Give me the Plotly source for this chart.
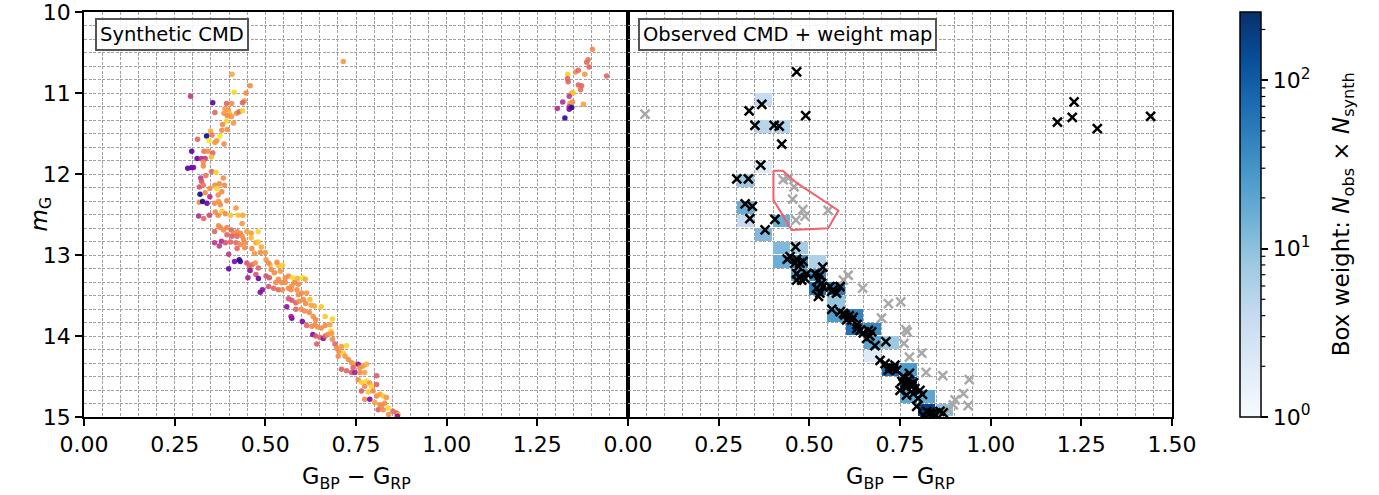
import numpy as np
import plotly.graph_objects as go

FONT = "DejaVu Sans"

# ---------------- Synthetic CMD (left panel) ----------------
syn_color = [
    0.408, 0.458, 0.414, 0.447, 0.294, 0.355, 0.393, 0.407, 0.442, 0.437,
    0.389, 0.398, 0.386, 0.401, 0.421, 0.428, 0.437, 0.361,
    0.395, 0.407, 0.393, 0.412, 0.382,
    0.380, 0.395, 0.349, 0.353, 0.338, 0.375, 0.313, 0.345, 0.366, 0.361, 0.386,
    0.297, 0.331, 0.342, 0.355, 0.351,
    0.312, 0.324, 0.334, 0.329, 0.329,
    0.286, 0.297, 0.302, 0.352, 0.364,
    0.322, 0.336, 0.384,
    0.324, 0.318, 0.329, 0.347, 0.361, 0.373, 0.387, 0.366,
    0.320, 0.334, 0.347, 0.370, 0.380,
    # 12.3 - 12.6
    0.318, 0.327, 0.339, 0.360, 0.371, 0.376, 0.394, 0.419, 0.316, 0.330,
    0.346, 0.362, 0.381, 0.390, 0.404, 0.425, 0.438, 0.370, 0.436,
    # 12.6 - 13.0
    0.360, 0.371, 0.376, 0.385, 0.394, 0.406, 0.413, 0.422, 0.431, 0.449,
    0.461, 0.480, 0.461, 0.394, 0.408, 0.422, 0.436, 0.440, 0.443, 0.360,
    0.373, 0.379, 0.390, 0.404, 0.419, 0.431, 0.474, 0.480, 0.489, 0.422,
    0.443, 0.463, 0.470, 0.486, 0.500,
    # 13.0 - 13.4
    0.399, 0.415, 0.428, 0.431, 0.399, 0.449, 0.456, 0.463, 0.472, 0.481,
    0.458, 0.474, 0.481, 0.452, 0.502, 0.513, 0.516, 0.525, 0.536, 0.547,
    0.509, 0.532, 0.541, 0.555, 0.564, 0.575, 0.589, 0.502, 0.511, 0.536,
    0.529, 0.545, 0.555, 0.573, 0.580, 0.591,
    # 13.4 - 13.8
    0.486, 0.492, 0.509, 0.523, 0.536, 0.547, 0.564, 0.571, 0.587, 0.602,
    0.610, 0.591, 0.600, 0.614, 0.623, 0.564, 0.573, 0.584, 0.593, 0.605,
    0.611, 0.626, 0.635, 0.654, 0.559, 0.573, 0.571, 0.584, 0.599, 0.608,
    0.621, 0.632, 0.639, 0.665, 0.685,
    # 13.8 - 14.25
    0.602, 0.614, 0.628, 0.637, 0.644, 0.654, 0.665, 0.678, 0.681, 0.631,
    0.639, 0.651, 0.660, 0.665, 0.672, 0.683, 0.642, 0.685, 0.692, 0.697,
    0.710, 0.724, 0.703, 0.715, 0.701, 0.720,
    # 14.25 - 14.7
    0.729, 0.738, 0.747, 0.756, 0.742, 0.761, 0.770, 0.779, 0.710, 0.724,
    0.738, 0.747, 0.761, 0.774, 0.756, 0.765, 0.779, 0.788, 0.807, 0.774,
    0.793, 0.807, 0.765, 0.784, 0.797,
    # 14.7 - 15.0
    0.774, 0.788, 0.807, 0.816, 0.825, 0.834, 0.802, 0.816, 0.829, 0.839,
    0.811, 0.825, 0.852, 0.862, 0.840, 0.866, 0.820, 0.864,
    # red clump + lone point
    1.402, 1.390, 1.386, 1.393, 1.381, 1.441, 1.356, 1.363, 1.334, 1.333,
    1.335, 1.363, 1.372, 1.369, 1.345, 1.349, 1.338, 1.320, 1.347, 1.340,
    1.377, 1.305, 1.338, 1.338, 1.345, 1.326, 0.715,
]
syn_mag = [
    10.77, 10.91, 10.99, 11.00, 11.04, 11.12, 11.13, 11.13, 11.10, 11.12,
    11.19, 11.21, 11.25, 11.25, 11.25, 11.23, 11.22, 11.24,
    11.28, 11.29, 11.35, 11.37, 11.39,
    11.46, 11.45, 11.47, 11.52, 11.53, 11.53, 11.57, 11.59, 11.59, 11.61, 11.63,
    11.72, 11.72, 11.72, 11.74, 11.79,
    11.81, 11.81, 11.81, 11.85, 11.90,
    11.93, 11.92, 11.92, 11.97, 11.98,
    12.05, 12.02, 12.05,
    12.09, 12.16, 12.14, 12.18, 12.14, 12.12, 12.14, 12.18,
    12.25, 12.23, 12.28, 12.26, 12.22,
    12.35, 12.34, 12.36, 12.36, 12.34, 12.38, 12.33, 12.42, 12.52, 12.55,
    12.51, 12.47, 12.46, 12.49, 12.51, 12.51, 12.51, 12.51, 12.61,
    12.71, 12.64, 12.66, 12.69, 12.66, 12.69, 12.73, 12.71, 12.73, 12.71,
    12.73, 12.71, 12.79, 12.75, 12.77, 12.77, 12.77, 12.81, 12.85, 12.85,
    12.89, 12.83, 12.85, 12.84, 12.85, 12.87, 12.85, 12.84, 12.90, 12.92,
    12.91, 12.92, 12.98, 12.97, 12.97,
    12.99, 13.08, 13.06, 13.08, 13.17, 13.10, 13.14, 13.12, 13.10, 13.16,
    13.19, 13.24, 13.29, 13.28, 13.06, 13.12, 13.18, 13.22, 13.13, 13.13,
    13.10, 13.09, 13.20, 13.28, 13.26, 13.28, 13.29, 13.26, 13.28, 13.30,
    13.34, 13.34, 13.34, 13.38, 13.34, 13.36,
    13.46, 13.43, 13.39, 13.41, 13.43, 13.43, 13.41, 13.43, 13.43, 13.28,
    13.30, 13.49, 13.47, 13.47, 13.55, 13.54, 13.56, 13.59, 13.57, 13.55,
    13.60, 13.62, 13.63, 13.64, 13.64, 13.78, 13.76, 13.67, 13.67, 13.69,
    13.71, 13.76, 13.80, 13.76, 13.79,
    13.82, 13.87, 13.88, 13.86, 13.89, 13.90, 13.87, 13.86, 13.94, 13.98,
    14.00, 14.02, 14.03, 14.00, 13.98, 13.97, 14.10, 14.04, 14.10, 14.15,
    14.13, 14.12, 14.19, 14.21, 14.25, 14.25,
    14.29, 14.33, 14.35, 14.35, 14.39, 14.39, 14.37, 14.35, 14.41, 14.43,
    14.45, 14.45, 14.45, 14.45, 14.54, 14.57, 14.56, 14.58, 14.49, 14.62,
    14.62, 14.60, 14.68, 14.69, 14.68,
    14.78, 14.78, 14.74, 14.72, 14.74, 14.76, 14.82, 14.85, 14.83, 14.89,
    14.91, 14.91, 14.93, 14.95, 14.97, 14.97, 14.87, 14.99,
    10.46, 10.59, 10.62, 10.68, 10.77, 10.79, 10.74, 10.72, 10.77, 10.82,
    10.86, 10.90, 10.91, 10.96, 11.00, 11.00, 11.04, 11.11, 11.11, 11.13,
    11.14, 11.19, 11.17, 11.20, 11.18, 11.31, 10.61,
]
syn_value = [
    0.8, 0.72, 0.92, 0.72, 0.45, 0.15, 0.6, 0.72, 0.72, 0.6,
    0.75, 0.75, 0.75, 0.85, 0.72, 0.6, 0.9, 0.6,
    0.72, 0.75, 0.92, 0.75, 0.72,
    0.72, 0.72, 0.82, 0.65, 0.0, 0.95, 0.6, 0.95, 0.75, 0.75, 0.72,
    0.15, 0.65, 0.72, 0.6, 0.85,
    0.2, 0.4, 0.45, 0.72, 0.72,
    0.15, 0.2, 0.25, 0.6, 0.9,
    0.45, 0.65, 0.72,
    0.55, 0.55, 0.65, 0.72, 0.72, 0.72, 0.72, 0.92,
    0.0, 0.72, 0.4, 0.72, 0.72,
    0.72, 0.02, 0.2, 0.72, 0.75, 0.72, 0.72, 0.75, 0.4, 0.6,
    0.5, 0.72, 0.88, 0.72, 0.88, 0.88, 0.8, 0.72, 0.75,
    0.6, 0.72, 0.72, 0.72, 0.7, 0.6, 0.72, 0.72, 0.72, 0.78,
    0.75, 0.92, 0.85, 0.6, 0.58, 0.6, 0.72, 0.72, 0.72, 0.45,
    0.45, 0.4, 0.55, 0.6, 0.62, 0.72, 0.78, 0.88, 0.8, 0.6,
    0.72, 0.72, 0.75, 0.72, 0.75,
    0.45, 0.25, 0.05, 0.1, 0.2, 0.55, 0.6, 0.6, 0.72, 0.6,
    0.3, 0.55, 0.2, 0.35, 0.75, 0.85, 0.72, 0.72, 0.88, 0.88,
    0.72, 0.72, 0.75, 0.72, 0.72, 0.92, 0.82, 0.55, 0.55, 0.72,
    0.72, 0.72, 0.72, 0.75, 0.72, 0.72,
    0.25, 0.3, 0.55, 0.6, 0.6, 0.72, 0.72, 0.72, 0.72, 0.95,
    0.8, 0.72, 0.72, 0.75, 0.85, 0.55, 0.55, 0.58, 0.72, 0.72,
    0.72, 0.78, 0.8, 0.88, 0.3, 0.2, 0.35, 0.6, 0.72, 0.72,
    0.72, 0.72, 0.72, 0.88, 0.9,
    0.25, 0.6, 0.72, 0.72, 0.75, 0.72, 0.72, 0.78, 0.9, 0.25,
    0.55, 0.6, 0.3, 0.6, 0.72, 0.75, 0.58, 0.72, 0.6, 0.72,
    0.75, 0.92, 0.72, 0.9, 0.72, 0.75,
    0.72, 0.72, 0.8, 0.3, 0.58, 0.72, 0.75, 0.82, 0.58, 0.6,
    0.55, 0.35, 0.72, 0.78, 0.72, 0.9, 0.92, 0.75, 0.58, 0.72,
    0.9, 0.58, 0.58, 0.88, 0.72,
    0.72, 0.25, 0.72, 0.78, 0.88, 0.75, 0.78, 0.72, 0.72, 0.92,
    0.58, 0.72, 0.6, 0.6, 0.72, 0.8, 0.72, 0.3,
    0.72, 0.65, 0.62, 0.6, 0.75, 0.6, 0.72, 0.62, 0.9, 0.6,
    0.6, 0.6, 0.6, 0.62, 0.78, 0.88, 0.45, 0.4, 0.72, 0.75,
    0.78, 0.4, 0.45, 0.25, 0.05, 0.08, 0.75,
]

# ---------------- Observed CMD (right panel) ----------------
obs_in_color = [
    0.465, 0.369, 0.334, 0.490, 0.350, 0.403, 0.417, 0.424, 0.366, 0.300,
    0.332, 0.323, 0.343, 0.336, 0.405, 0.378, 0.462,
    1.230, 1.225, 1.184, 1.294, 1.441,
    0.439, 0.447, 0.465, 0.474, 0.483, 0.470, 0.460,
    0.465, 0.474, 0.488, 0.465, 0.479, 0.493,
    0.516, 0.529, 0.525, 0.534, 0.520, 0.538, 0.529, 0.537, 0.525,
    0.557, 0.566, 0.585, 0.575, 0.562,
    0.562, 0.585, 0.598, 0.610, 0.621, 0.603, 0.617, 0.594,
    0.631, 0.640, 0.649, 0.663, 0.672, 0.667, 0.681, 0.711, 0.658, 0.631,
    0.695, 0.709, 0.722, 0.731, 0.741, 0.718, 0.736,
    0.759, 0.773, 0.764, 0.778, 0.787, 0.755, 0.776, 0.782, 0.768, 0.791,
    0.805, 0.750,
    0.768, 0.787, 0.812, 0.800,
    0.796, 0.824, 0.833, 0.842, 0.860, 0.869, 0.814, 0.846,
]
obs_in_mag = [
    10.74, 11.14, 11.22, 11.28, 11.40, 11.40, 11.41, 11.63, 11.89, 12.06,
    12.06, 12.37, 12.40, 12.55, 12.56, 12.69, 12.90,
    11.11, 11.30, 11.36, 11.44, 11.29,
    13.05, 13.02, 13.05, 13.10, 13.08, 13.14, 13.10,
    13.23, 13.27, 13.29, 13.31, 13.31, 13.23,
    13.23, 13.25, 13.31, 13.35, 13.41, 13.39, 13.47, 13.15, 13.51,
    13.39, 13.43, 13.39, 13.47, 13.45,
    13.67, 13.70, 13.74, 13.75, 13.77, 13.80, 13.80, 13.72,
    13.91, 13.93, 13.96, 13.93, 13.95, 14.00, 14.12, 14.07, 14.03, 13.86,
    14.30, 14.34, 14.38, 14.40, 14.42, 14.42, 14.36,
    14.50, 14.54, 14.58, 14.60, 14.58, 14.56, 14.46, 14.62, 14.63, 14.65,
    14.67, 14.67,
    14.73, 14.71, 14.72, 14.77,
    14.87, 14.93, 14.95, 14.95, 14.93, 14.95, 14.98, 14.97,
]
obs_out_color = [
    0.047, 0.428, 0.442, 0.458, 0.454, 0.482, 0.488, 0.463, 0.552,
    0.607, 0.594, 0.647, 0.718, 0.752, 0.699, 0.766, 0.770, 0.761,
    0.776, 0.810, 0.822, 0.868, 0.941, 0.925, 0.902, 0.897, 0.938, 0.883,
]
obs_out_mag = [
    11.26, 12.07, 12.05, 12.16, 12.31, 12.44, 12.52, 12.57, 12.45,
    13.25, 13.31, 13.41, 13.60, 13.58, 13.78, 13.92, 13.95, 14.09,
    14.26, 14.21, 14.45, 14.49, 14.54, 14.71, 14.79, 14.85, 14.86, 14.91,
]

# excluded region (polygon)
poly_color = [0.401, 0.427, 0.465, 0.580, 0.552, 0.451, 0.401, 0.401]
poly_mag = [11.96, 11.96, 12.11, 12.45, 12.67, 12.69, 12.32, 11.96]

# weight-map boxes: colour bin index (width 0.05), magnitude bin index (height 1/6), weight
box_col_bin = [7, 7, 8, 7, 6, 6, 6, 8, 7, 8, 9, 8, 9, 10, 9, 10, 10, 11, 11, 11, 12,
               12, 13, 13, 14, 13, 14, 15, 15, 15, 16, 16, 17]
box_mag_bin = [6, 8, 8, 11, 12, 14, 15, 15, 16, 17, 17, 18, 18, 18, 19, 19, 20, 20, 21, 22, 22,
               23, 23, 24, 24, 25, 26, 26, 27, 28, 28, 29, 29]
box_weight = [4, 5, 5, 2, 8, 16, 4, 16, 12, 12, 7, 16, 36, 6, 25, 36, 55, 55, 9, 25, 45,
              64, 40, 20, 8, 2, 70, 25, 130, 20, 20, 180, 10]

COL_BIN, MAG_BIN, N_BINS = 0.05, 1.0 / 6.0, 30
W_MAX = 254.0

col_edges = np.linspace(0.0, COL_BIN * N_BINS, N_BINS + 1)
mag_edges = np.linspace(10.0, 10.0 + MAG_BIN * N_BINS, N_BINS + 1)
z = np.full((N_BINS, N_BINS), np.nan)
for i, j, w in zip(box_col_bin, box_mag_bin, box_weight):
    z[j, i] = np.log10(w)

blues = [[0.0, "#f7fbff"], [0.125, "#deebf7"], [0.25, "#c6dbef"], [0.375, "#9ecae1"],
         [0.5, "#6baed6"], [0.625, "#4292c6"], [0.75, "#2171b5"], [0.875, "#08519c"],
         [1.0, "#08306b"]]
zmax = float(np.log10(W_MAX))

fig = go.Figure()

fig.add_trace(go.Heatmap(
    x=col_edges, y=mag_edges, z=z, xaxis="x2", yaxis="y2",
    colorscale=blues, zmin=0, zmax=zmax, xgap=1, ygap=1,
    hoverongaps=False,
    colorbar=dict(
        x=1.0625, xanchor="left", xpad=0, y=0.5, yanchor="middle", len=1, ypad=0,
        thickness=21, outlinewidth=1.5, outlinecolor="black",
        tickvals=[0, 1, 2], ticktext=["10<sup>0</sup>", "10<sup>1</sup>", "10<sup>2</sup>"],
        ticks="outside", ticklen=7, tickwidth=1.5, tickcolor="black",
        ticklabeloverflow="allow",
        tickfont=dict(family=FONT, size=22, color="black"),
    ),
))

fig.add_trace(go.Scatter(
    x=syn_color, y=syn_mag, mode="markers", xaxis="x", yaxis="y",
    marker=dict(size=5.5, color=syn_value, colorscale="Plasma", cmin=0, cmax=1,
                opacity=0.9, line=dict(width=0)),
    showlegend=False,
))

fig.add_trace(go.Scatter(
    x=obs_out_color, y=obs_out_mag, mode="markers", xaxis="x2", yaxis="y2",
    marker=dict(symbol="x-thin", size=9, line=dict(width=2.5, color="#a8a8a8")),
    showlegend=False,
))
fig.add_trace(go.Scatter(
    x=poly_color, y=poly_mag, mode="lines", xaxis="x2", yaxis="y2",
    line=dict(color="#f2606c", width=2), showlegend=False,
))
fig.add_trace(go.Scatter(
    x=obs_in_color, y=obs_in_mag, mode="markers", xaxis="x2", yaxis="y2",
    marker=dict(symbol="x-thin", size=9, line=dict(width=2.5, color="black")),
    showlegend=False,
))

grid = dict(showgrid=True, gridcolor="#a0a0a0", gridwidth=1, griddash="3px,1.5px")
xcommon = dict(range=[0, 1.5], tickformat=".2f", ticks="outside", ticklen=7, tickwidth=1.5,
               tickcolor="black", showline=True, linecolor="black", linewidth=1.5, mirror=True,
               zeroline=False, ticklabeloverflow="allow",
               tickfont=dict(family=FONT, size=22, color="black"),
               minor=dict(dtick=0.05, tick0=0, ticklen=0, **grid), **grid)
ycommon = dict(range=[15, 10], tickvals=[10, 11, 12, 13, 14, 15], showline=True,
               linecolor="black", linewidth=1.5, mirror=True, zeroline=False,
               ticklabeloverflow="allow",
               minor=dict(dtick=1.0 / 6.0, tick0=10, ticklen=0, **grid), **grid)

fig.update_layout(
    width=1379, height=495,
    margin=dict(l=84, r=207, t=12, b=78, autoexpand=False),
    paper_bgcolor="white", plot_bgcolor="white",
    font=dict(family=FONT, size=20, color="black"),
    showlegend=False,
    xaxis=dict(domain=[0, 0.5], anchor="y", tickvals=[0, 0.25, 0.5, 0.75, 1.0, 1.25], **xcommon),
    xaxis2=dict(domain=[0.5, 1.0], anchor="y2",
                tickvals=[0, 0.25, 0.5, 0.75, 1.0, 1.25, 1.5], **xcommon),
    yaxis=dict(domain=[0, 1], anchor="x", ticks="outside", ticklen=7, tickwidth=1.5,
               tickcolor="black", tickfont=dict(family=FONT, size=22, color="black"), **ycommon),
    yaxis2=dict(domain=[0, 1], anchor="x2", matches="y", showticklabels=False, ticks="",
                **ycommon),
)

# minor ticks on the colour bar (log decades)
minor_vals = [2, 3, 4, 5, 6, 7, 8, 9, 20, 30, 40, 50, 60, 70, 80, 90, 200]
for v in minor_vals:
    yp = np.log10(v) / zmax
    fig.add_shape(type="line", xref="paper", yref="paper",
                  x0=1.0818, x1=1.0858, y0=yp, y1=yp,
                  line=dict(color="black", width=1.2))

annots = [
    dict(text="Synthetic CMD", x=0.0101, y=0.985, xanchor="left", yanchor="top"),
    dict(text="Observed CMD + weight map", x=0.5092, y=0.985, xanchor="left", yanchor="top"),
]
for a in annots:
    fig.add_annotation(xref="paper", yref="paper", showarrow=False,
                       font=dict(family=FONT, size=19.5, color="black"),
                       bgcolor="rgba(255,255,255,0.85)", bordercolor="#555555",
                       borderwidth=2, borderpad=3, **a)

fig.add_annotation(xref="paper", yref="paper", x=-0.0404, y=0.5, xanchor="center",
                   yanchor="middle", showarrow=False,
                   text="<i>m</i><sub>G</sub>", textangle=-90,
                   font=dict(family=FONT, size=23, color="black"))
for xc in (0.25, 0.75):
    fig.add_annotation(xref="paper", yref="paper", x=xc, y=-0.1506, xanchor="center",
                       yanchor="middle", showarrow=False,
                       text="G<sub>BP</sub> \u2212 G<sub>RP</sub>",
                       font=dict(family=FONT, size=22.5, color="black"))
fig.add_annotation(xref="paper", yref="paper", x=1.157, y=0.5, xanchor="center",
                   yanchor="middle", showarrow=False,
                   text="Box weight: <i>N</i><sub>obs</sub> \u00d7 <i>N</i><sub>synth</sub>",
                   textangle=-90, font=dict(family=FONT, size=23, color="black"))

fig.write_html("out.html")
